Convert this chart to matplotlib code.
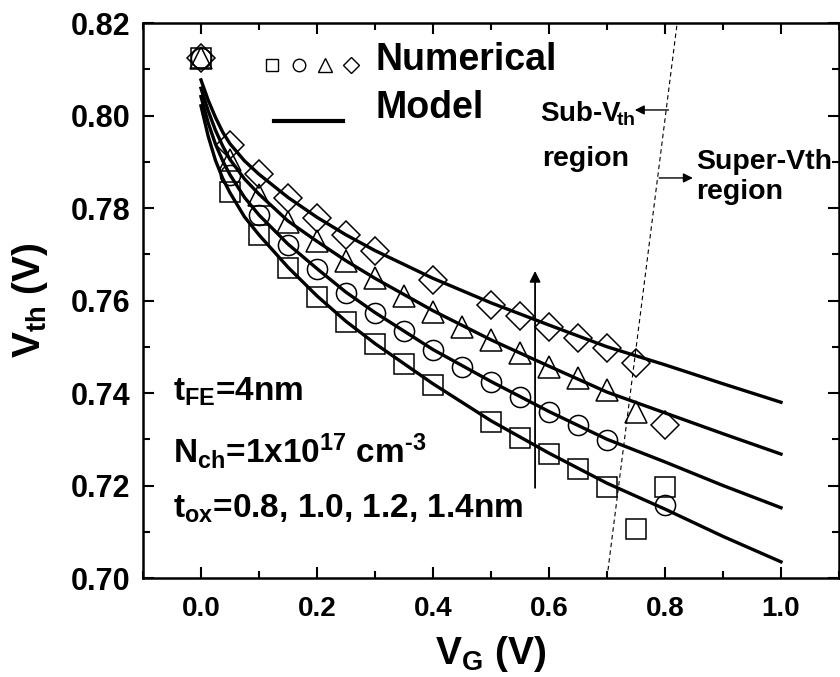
import matplotlib
matplotlib.use('Agg')
import matplotlib.pyplot as plt
from matplotlib.lines import Line2D
from matplotlib.legend_handler import HandlerTuple, HandlerLine2D

plt.rcParams['font.family'] = ['Liberation Sans', 'DejaVu Sans']
plt.rcParams['font.weight'] = 'bold'
plt.rcParams['axes.labelweight'] = 'bold'
plt.rcParams['mathtext.fontset'] = 'custom'
plt.rcParams['mathtext.rm'] = 'Liberation Sans:bold'
plt.rcParams['mathtext.bf'] = 'Liberation Sans:bold'
plt.rcParams['mathtext.it'] = 'Liberation Sans:bold'
plt.rcParams['mathtext.default'] = 'bf'

# numerical simulation points, t_ox = 0.8 / 1.0 / 1.2 / 1.4 nm
vg_sq = [0.0, 0.05, 0.1, 0.15, 0.2, 0.25, 0.3, 0.35, 0.4, 0.5, 0.55, 0.6, 0.65, 0.7, 0.75, 0.8]
vth_sq = [0.8125, 0.7834, 0.7742, 0.7670, 0.7608, 0.7553, 0.7506, 0.7462, 0.7417, 0.7338, 0.7302,
          0.7268, 0.7235, 0.7196, 0.7107, 0.7196]
vg_ci = [0.0, 0.05, 0.1, 0.15, 0.2, 0.25, 0.3, 0.35, 0.4, 0.45, 0.5, 0.55, 0.6, 0.65, 0.7, 0.8]
vth_ci = [0.8125, 0.7871, 0.7785, 0.7720, 0.7668, 0.7616, 0.7572, 0.7534, 0.7493, 0.7457, 0.7424,
          0.7392, 0.7360, 0.7331, 0.7298, 0.7158]
vg_tr = [0.0, 0.05, 0.1, 0.15, 0.2, 0.25, 0.3, 0.35, 0.4, 0.45, 0.5, 0.55, 0.6, 0.65, 0.7, 0.75]
vth_tr = [0.8125, 0.7904, 0.7828, 0.7770, 0.7729, 0.7686, 0.7648, 0.7609, 0.7576, 0.7543, 0.7515,
          0.7486, 0.7457, 0.7432, 0.7406, 0.7360]
vg_di = [0.0, 0.05, 0.1, 0.15, 0.2, 0.25, 0.3, 0.4, 0.5, 0.55, 0.6, 0.65, 0.7, 0.75, 0.8]
vth_di = [0.8125, 0.7936, 0.7873, 0.7821, 0.7778, 0.7742, 0.7706, 0.7645, 0.7590, 0.7566, 0.7543,
          0.7520, 0.7497, 0.7464, 0.7331]

# analytical model curves
vg_model = [0.0, 0.0125, 0.025, 0.0375, 0.05, 0.075, 0.1, 0.15, 0.2, 0.25, 0.3, 0.4, 0.5, 0.6, 0.7,
            0.8, 0.9, 1.0]
model_08 = [0.8021, 0.7955, 0.7903, 0.7864, 0.7833, 0.7781, 0.7742, 0.7672, 0.7610, 0.7555, 0.7507,
            0.7420, 0.7340, 0.7270, 0.7205, 0.7149, 0.7090, 0.7035]
model_10 = [0.8041, 0.7984, 0.7938, 0.7902, 0.7872, 0.7823, 0.7785, 0.7722, 0.7669, 0.7618, 0.7574,
            0.7494, 0.7425, 0.7360, 0.7300, 0.7251, 0.7200, 0.7152]
model_12 = [0.8059, 0.8010, 0.7968, 0.7934, 0.7905, 0.7863, 0.7830, 0.7772, 0.7728, 0.7686, 0.7648,
            0.7578, 0.7515, 0.7458, 0.7402, 0.7357, 0.7312, 0.7268]
model_14 = [0.8077, 0.8033, 0.7996, 0.7964, 0.7939, 0.7902, 0.7873, 0.7823, 0.7780, 0.7742, 0.7708,
            0.7648, 0.7595, 0.7547, 0.7500, 0.7461, 0.7420, 0.7380]

# sub/super threshold boundary
boundary_vg = [0.70, 0.821]
boundary_vth = [0.70, 0.82]


class DroppedTuple(HandlerTuple):
    # legend symbols sit a little below the label centre
    def __init__(self, drop, **kw):
        super().__init__(**kw)
        self.drop = drop

    def create_artists(self, legend, orig_handle, xdescent, ydescent, width, height, fontsize, trans):
        return super().create_artists(legend, orig_handle, xdescent, ydescent + 2 * self.drop,
                                      width, height, fontsize, trans)


class DroppedLine(HandlerLine2D):
    def __init__(self, drop, inset, length, **kw):
        super().__init__(**kw)
        self.drop = drop
        self.inset = inset
        self.length = length

    def create_artists(self, legend, orig_handle, xdescent, ydescent, width, height, fontsize, trans):
        return super().create_artists(legend, orig_handle, xdescent - self.inset, ydescent + 2 * self.drop,
                                      self.length, height, fontsize, trans)


fig = plt.figure(figsize=(8.4, 6.77), dpi=100)
ax = fig.add_axes([0.1702, 0.1462, 0.8286, 0.8198])

for y in (model_08, model_10, model_12, model_14):
    ax.plot(vg_model, y, color='black', lw=2.4, zorder=3)

mk = dict(linestyle='none', markerfacecolor='none', markeredgecolor='black', markeredgewidth=1.1,
          zorder=4)
ax.plot(vg_sq, vth_sq, marker='s', markersize=14.5, **mk)
ax.plot(vg_ci, vth_ci, marker='o', markersize=14.5, **mk)
ax.plot(vg_tr, vth_tr, marker='^', markersize=16, **mk)
ax.plot(vg_di, vth_di, marker='D', markersize=14, **mk)

ax.plot(boundary_vg, boundary_vth, color='black', lw=0.8, linestyle=(0, (4, 3)))

arrow = dict(arrowstyle='-|>', color='black', lw=1.0, mutation_scale=14, shrinkA=0, shrinkB=0)
ax.annotate('', xy=(0.748, 0.8012), xytext=(0.806, 0.8012), arrowprops=arrow)
ax.annotate('', xy=(0.848, 0.7865), xytext=(0.790, 0.7865), arrowprops=arrow)
ax.annotate('', xy=(0.576, 0.7664), xytext=(0.576, 0.7195),
            arrowprops=dict(arrowstyle='-|>', color='black', lw=1.3, mutation_scale=16,
                            shrinkA=0, shrinkB=0))

ax.text(0.585, 0.7987, r'Sub-V$\!_{th}$', fontsize=20, ha='left', va='baseline')
ax.text(0.588, 0.7890, 'region', fontsize=20.5, ha='left', va='baseline')
ax.text(0.853, 0.7885, 'Super-Vth', fontsize=20.5, ha='left', va='baseline')
ax.text(0.853, 0.7820, 'region', fontsize=20.5, ha='left', va='baseline')

ax.text(-0.048, 0.7383, 't$_{FE}$=4nm', fontsize=24, va='baseline')
ax.text(-0.048, 0.7249, r'N$_{ch}$=1x10$^{17}$ cm$^{\text{-3}}$', fontsize=24, va='baseline')
ax.text(-0.048, 0.7130, 't$_{ox}$=0.8, 1.0, 1.2, 1.4nm', fontsize=24, va='baseline')

leg_mk = dict(linestyle='none', markerfacecolor='none', markeredgecolor='black', markeredgewidth=1.0)
h_num = (Line2D([], [], marker='s', markersize=8, **leg_mk),
         Line2D([], [], marker='o', markersize=9, **leg_mk),
         Line2D([], [], marker='^', markersize=10, **leg_mk),
         Line2D([], [], marker='D', markersize=8, **leg_mk))
h_mod = Line2D([], [], color='black', lw=3)
ax.legend([h_num, h_mod], ['Numerical', 'Model'],
          handler_map={h_num: DroppedTuple(5.8, ndivide=None, pad=0.3),
                       h_mod: DroppedLine(11.5, 7, 49)},
          loc='upper left', bbox_to_anchor=(0.175, 0.965), frameon=False, fontsize=27,
          handlelength=2.5, handletextpad=0.45, labelspacing=0.31, borderpad=0, borderaxespad=0)

ax.set_xlim(-0.1, 1.1)
ax.set_ylim(0.70, 0.82)
ax.set_xticks([0.0, 0.2, 0.4, 0.6, 0.8, 1.0])
ax.set_xticks([-0.1, 0.1, 0.3, 0.5, 0.7, 0.9, 1.1], minor=True)
ax.set_yticks([0.70, 0.72, 0.74, 0.76, 0.78, 0.80, 0.82])
ax.set_yticks([0.71, 0.73, 0.75, 0.77, 0.79, 0.81], minor=True)
ax.xaxis.set_major_formatter(matplotlib.ticker.FormatStrFormatter('%.1f'))
ax.yaxis.set_major_formatter(matplotlib.ticker.FormatStrFormatter('%.2f'))
ax.tick_params(which='both', direction='in', top=True, right=True, width=1.5)
ax.tick_params(which='major', length=8)
ax.tick_params(which='minor', length=5)
ax.tick_params(axis='x', pad=13, labelsize=20)
ax.tick_params(axis='y', pad=9, labelsize=22)
for s in ax.spines.values():
    s.set_linewidth(1.8)

ax.set_xlabel('V$_G$ (V)', fontsize=28, fontweight='bold')
ax.xaxis.set_label_coords(0.5, -0.1)
ax.set_ylabel('V$_{th}$ (V)', fontsize=28, fontweight='bold')
ax.yaxis.set_label_coords(-0.133, 0.5)

fig.savefig('out.png', dpi=100)
